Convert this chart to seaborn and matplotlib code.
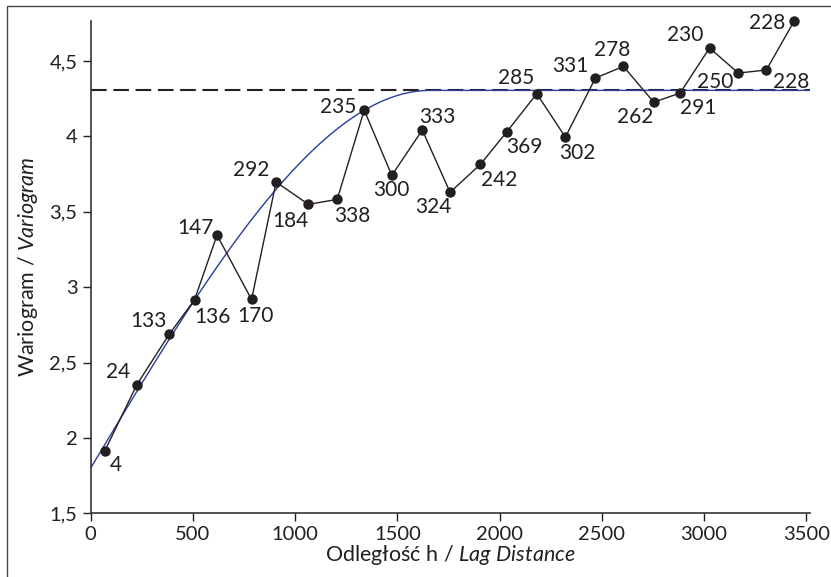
import numpy as np
import pandas as pd
import matplotlib
matplotlib.use("Agg")
import matplotlib.pyplot as plt
from matplotlib.ticker import FuncFormatter, MultipleLocator
from matplotlib.patches import Rectangle
import seaborn as sns

# experimental variogram: lag distance, value, number of pairs
lag = [68, 226, 384, 508, 618, 787, 907, 1065, 1206, 1338, 1473, 1622, 1758,
       1906, 2035, 2182, 2322, 2469, 2606, 2754, 2883, 3027, 3168, 3305, 3442]
gamma = [1.911, 2.353, 2.687, 2.916, 3.345, 2.918, 3.697, 3.549, 3.582, 4.174,
         3.741, 4.042, 3.629, 3.814, 4.029, 4.283, 3.995, 4.387, 4.464, 4.227,
         4.287, 4.586, 4.420, 4.440, 4.767]
pairs = [4, 24, 133, 136, 147, 170, 292, 184, 338, 235, 300, 333, 324,
         242, 369, 285, 302, 331, 278, 262, 291, 230, 250, 228, 228]

# spherical model fitted to it
nugget = 1.80
sill = 4.305
model_range = 1660
x_max = 3520

# label placement (pixels from the point)
label_offsets = [(11, -14), (-19, 13), (-21, 13), (18, -17), (-22, 7), (4, -17),
                 (-25, 12), (-18, -17), (15, -17), (-26, 3), (0, -15), (15, 13),
                 (-17, -15), (19, -16), (18, -15), (-21, 16), (12, -16), (-25, 12),
                 (-11, 16), (-19, -15), (18, -15), (-24, 13), (-23, -9), (25, -12),
                 (-27, -2)]

df = pd.DataFrame({"lag": lag, "gamma": gamma, "pairs": pairs})

h = np.linspace(0, x_max, 400)
hr = np.minimum(h / model_range, 1.0)
model = pd.DataFrame({"h": h,
                      "g": nugget + (sill - nugget) * (1.5 * hr - 0.5 * hr ** 3)})

sns.set_style("ticks")
plt.rcParams["font.family"] = ["Lato", "DejaVu Sans"]
plt.rcParams["mathtext.fontset"] = "custom"
plt.rcParams["mathtext.rm"] = "Lato"
plt.rcParams["mathtext.it"] = "Lato:italic"

ink = "#231f20"

fig = plt.figure(figsize=(8.31, 5.77), dpi=100)
ax = fig.add_axes([0.1091, 0.1104, 0.866, 0.8537])

ax.axhline(sill, color=ink, lw=1.5, dashes=(7.5, 3.2), zorder=1)
sns.lineplot(data=model, x="h", y="g", ax=ax, color="#2a3c9c", lw=1.0, zorder=2)
sns.lineplot(data=df, x="lag", y="gamma", ax=ax, color=ink, lw=1.0,
             marker="o", markersize=7.5, markeredgewidth=0, zorder=3, clip_on=False)

for (x, y, n), (dx, dy) in zip(zip(lag, gamma, pairs), label_offsets):
    ax.annotate(str(n), (x, y), xytext=(dx, dy), textcoords="offset pixels",
                ha="center", va="center", fontsize=15, color=ink)

ax.set_xlim(0, x_max)
ax.set_ylim(1.5, 4.767)
ax.xaxis.set_major_locator(MultipleLocator(500))
ax.yaxis.set_major_locator(MultipleLocator(0.5))
ax.yaxis.set_major_formatter(FuncFormatter(lambda v, p: f"{v:g}".replace(".", ",")))
ax.tick_params(labelsize=14.5, colors=ink, length=6, width=1.0)

sns.despine(ax=ax)
for s in ["left", "bottom"]:
    ax.spines[s].set_color("#333333")
    ax.spines[s].set_linewidth(1.2)

ax.set_xlabel(r"Odległość h / $\mathit{Lag\ Distance}$", fontsize=15.5, color=ink, labelpad=0)
ax.set_ylabel(r"Wariogram / $\mathit{Variogram}$", fontsize=15.5, color=ink, labelpad=7)

fig.patches.append(Rectangle((7 / 831, -0.05), 1.2, 1 - 6 / 577 + 0.05,
                             transform=fig.transFigure, fill=False,
                             edgecolor="#444444", lw=1.0))

fig.savefig("out.png", dpi=100)
